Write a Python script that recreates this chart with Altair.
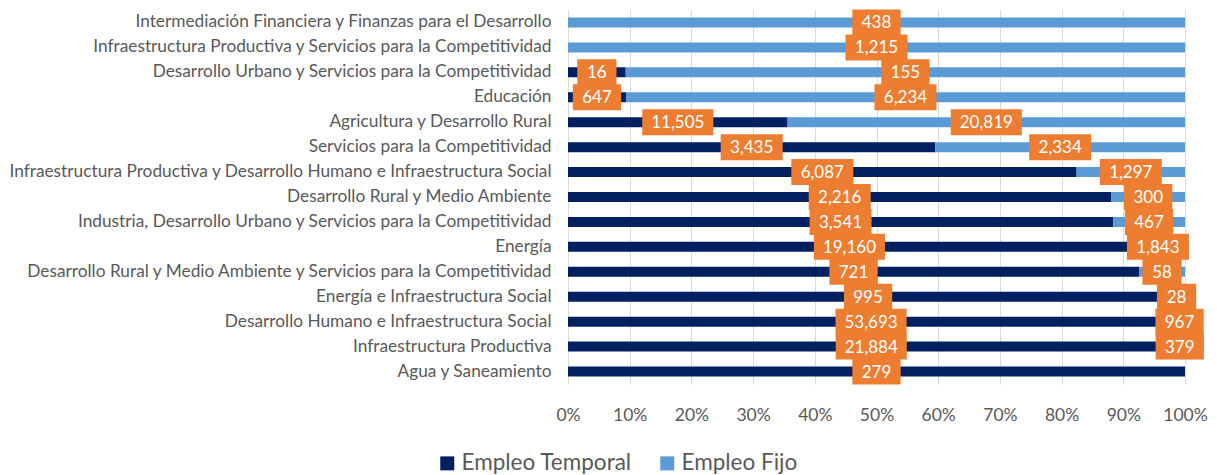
import altair as alt
import pandas as pd

categories = [
    "Intermediación Financiera y Finanzas para el Desarrollo",
    "Infraestructura Productiva y Servicios para la Competitividad",
    "Desarrollo Urbano y Servicios para la Competitividad\u00a0",
    "Educación",
    "Agricultura y Desarrollo Rural",
    "Servicios para la Competitividad",
    "Infraestructura Productiva y Desarrollo Humano e Infraestructura Social",
    "Desarrollo Rural y Medio Ambiente",
    "Industria, Desarrollo Urbano y Servicios para la Competitividad",
    "Energía",
    "Desarrollo Rural y Medio Ambiente y Servicios para la Competitividad",
    "Energía e Infraestructura Social",
    "Desarrollo Humano e Infraestructura Social",
    "Infraestructura Productiva",
    "Agua y Saneamiento",
]
empleo_temporal = [0, 0, 16, 647, 11505, 3435, 6087, 2216, 3541, 19160, 721, 995, 53693, 21884, 279]
empleo_fijo = [438, 1215, 155, 6234, 20819, 2334, 1297, 300, 467, 1843, 58, 28, 967, 379, 0]
series = ["Empleo Temporal", "Empleo Fijo"]
colors = ["#002060", "#5B9BD5"]

PLOT_W = 617
PLOT_H = 374

rows = []
labels = []
for cat, t, f in zip(categories, empleo_temporal, empleo_fijo):
    tot = t + f
    start = 0.0
    for k, (s, v) in enumerate(zip(series, [t, f])):
        rows.append({"cat": cat, "serie": s, "value": v, "ord": k})
        frac = v / tot
        if v > 0:
            labels.append({"cat": cat, "mid": start + frac / 2, "label": f"{v:,}"})
        start += frac

bars_df = pd.DataFrame(rows)
lab_df = pd.DataFrame(labels)

FONT = "Lato"
GRAY = "#595959"

y_enc = alt.Y(
    "cat:N",
    sort=categories,
    scale=alt.Scale(paddingInner=0, paddingOuter=0),
    axis=alt.Axis(title=None, domain=False, ticks=False, grid=False,
                  labelLimit=0, labelPadding=17, labelFont=FONT,
                  labelFontSize=17.3, labelColor=GRAY),
)

bars = alt.Chart(bars_df).mark_bar(size=10).encode(
    y=y_enc,
    x=alt.X(
        "value:Q",
        stack="normalize",
        scale=alt.Scale(domain=[0, 1], nice=False),
        axis=alt.Axis(title=None, format=".0%", values=[i / 10 for i in range(11)],
                      domain=False, ticks=False, grid=True, gridColor="#D9D9D9",
                      gridWidth=1, labelFont=FONT, labelFontSize=17.5,
                      labelColor=GRAY, labelPadding=22, labelOverlap=False,
                      labelFlush=False),
    ),
    color=alt.Color(
        "serie:N",
        sort=series,
        scale=alt.Scale(domain=series, range=colors),
        legend=alt.Legend(title=None, orient="none", direction="horizontal",
                          legendX=-132, legendY=442, symbolType="square",
                          symbolSize=196, symbolStrokeWidth=0, labelFont=FONT,
                          labelFontSize=22.5, labelColor=GRAY, labelOffset=3,
                          labelLimit=0, columnPadding=24),
    ),
    order=alt.Order("ord:Q"),
)

boxes = alt.Chart(lab_df).transform_calculate(
    w="(length(replace(datum.label, ',', '')) * 9.1 + (length(datum.label) - length(replace(datum.label, ',', ''))) * 4.6 + 21)",
).transform_calculate(
    lo=f"datum.mid - datum.w / 2 / {PLOT_W}",
    hi=f"datum.mid + datum.w / 2 / {PLOT_W}",
).mark_bar(size=26, color="#ED7D31").encode(
    y=alt.Y("cat:N", sort=categories),
    x="lo:Q",
    x2="hi:Q",
)

texts = alt.Chart(lab_df).mark_text(
    color="white", font=FONT, fontSize=17, baseline="middle", align="center", dy=1
).encode(
    y=alt.Y("cat:N", sort=categories),
    x="mid:Q",
    text="label:N",
)

chart = alt.layer(bars, boxes, texts).properties(
    width=PLOT_W,
    height=PLOT_H,
    autosize="none",
    padding={"left": 560, "top": 2, "right": 24, "bottom": 90},
).configure_view(stroke=None)

chart.save("out.html", embed_options={"renderer": "svg", "actions": False})
